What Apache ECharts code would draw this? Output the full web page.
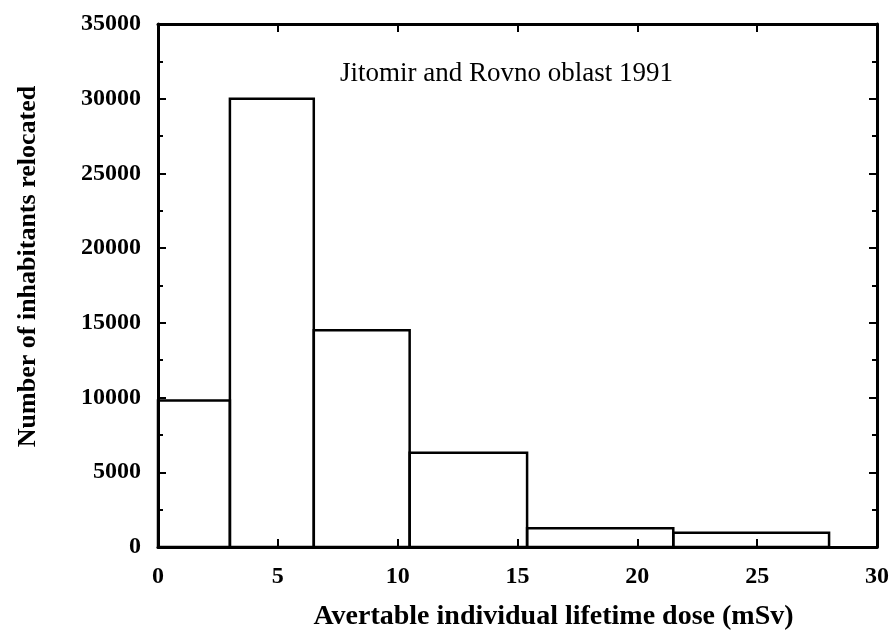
<!DOCTYPE html>
<html>
<head>
<meta charset="utf-8">
<script src="https://cdn.jsdelivr.net/npm/echarts@6/dist/echarts.min.js"></script>
<style>
  html, body { margin: 0; padding: 0; background: #fff; }
  #main { width: 892px; height: 640px; }
</style>
</head>
<body>
<div id="main"></div>
<script>
// bins of the histogram (dose in mSv) and how many people in each
const binStart = [0, 3, 6.5, 10.5, 15.4, 21.5];
const binEnd = [3, 6.5, 10.5, 15.4, 21.5, 28];
const counts = [9800, 30000, 14500, 6300, 1250, 950];

const xTicks = [0, 5, 10, 15, 20, 25, 30];
const yTicks = [0, 5000, 10000, 15000, 20000, 25000, 30000, 35000];

const serif = '"Liberation Serif", "DejaVu Serif", serif';

var chart = echarts.init(document.getElementById('main'));

var histData = binStart.map((s, i) => [s, binEnd[i], counts[i]]);

// frame line, not moved to zero of the other axis
var axisFrame = { show: true, onZero: false, lineStyle: { color: '#000', width: 3 } };
var tick = { show: true, inside: true, length: 8, lineStyle: { color: '#000', width: 2 } };
var minor = { show: true, splitNumber: 2, length: 5, lineStyle: { color: '#000', width: 2 } };

var option = {
  animation: false,
  backgroundColor: '#fff',
  grid: { left: 158, right: 15, top: 24, bottom: 93 },
  graphic: [{
    type: 'text',
    left: 340,
    top: 60,
    style: { text: 'Jitomir and Rovno oblast 1991', font: '27px ' + serif, fill: '#000' }
  }],
  xAxis: [{
    type: 'value',
    min: xTicks[0],
    max: xTicks[xTicks.length - 1],
    interval: 5,
    name: 'Avertable individual lifetime dose (mSv)',
    nameLocation: 'middle',
    nameGap: 56,
    // title sits a bit right of the plot centre
    nameTextStyle: { fontFamily: serif, fontSize: 28, fontWeight: 'bold', color: '#000', padding: [0, 0, 0, 72] },
    axisLine: axisFrame,
    axisTick: tick,
    axisLabel: { fontFamily: serif, fontSize: 24, fontWeight: 'bold', color: '#000', margin: 18 },
    splitLine: { show: false }
  }, {
    type: 'value',
    position: 'top',
    min: xTicks[0],
    max: xTicks[xTicks.length - 1],
    interval: 5,
    axisLine: axisFrame,
    axisTick: tick,
    axisLabel: { show: false },
    splitLine: { show: false }
  }],
  yAxis: [{
    type: 'value',
    min: yTicks[0],
    max: yTicks[yTicks.length - 1],
    interval: 5000,
    name: 'Number of inhabitants relocated',
    nameLocation: 'middle',
    nameGap: 117,
    nameTextStyle: { fontFamily: serif, fontSize: 26, fontWeight: 'bold', color: '#000', padding: [0, 0, 0, 38] },
    axisLine: axisFrame,
    axisTick: tick,
    minorTick: minor,
    axisLabel: { fontFamily: serif, fontSize: 24, fontWeight: 'bold', color: '#000', margin: 17, formatter: v => String(v) },
    splitLine: { show: false },
    minorSplitLine: { show: false }
  }, {
    type: 'value',
    position: 'right',
    min: yTicks[0],
    max: yTicks[yTicks.length - 1],
    interval: 5000,
    axisLine: axisFrame,
    axisTick: tick,
    minorTick: minor,
    axisLabel: { show: false },
    splitLine: { show: false },
    minorSplitLine: { show: false }
  }],
  series: [{
    type: 'custom',
    xAxisIndex: 0,
    yAxisIndex: 0,
    data: histData,
    encode: { x: [0, 1], y: 2 },
    renderItem: function (params, api) {
      var p0 = api.coord([api.value(0), api.value(2)]);
      var p1 = api.coord([api.value(1), 0]);
      return {
        type: 'rect',
        shape: { x: p0[0], y: p0[1], width: p1[0] - p0[0], height: p1[1] - p0[1] },
        style: { fill: 'none', stroke: '#000', lineWidth: 2.5 }
      };
    }
  }]
};

chart.setOption(option);
</script>
</body>
</html>
